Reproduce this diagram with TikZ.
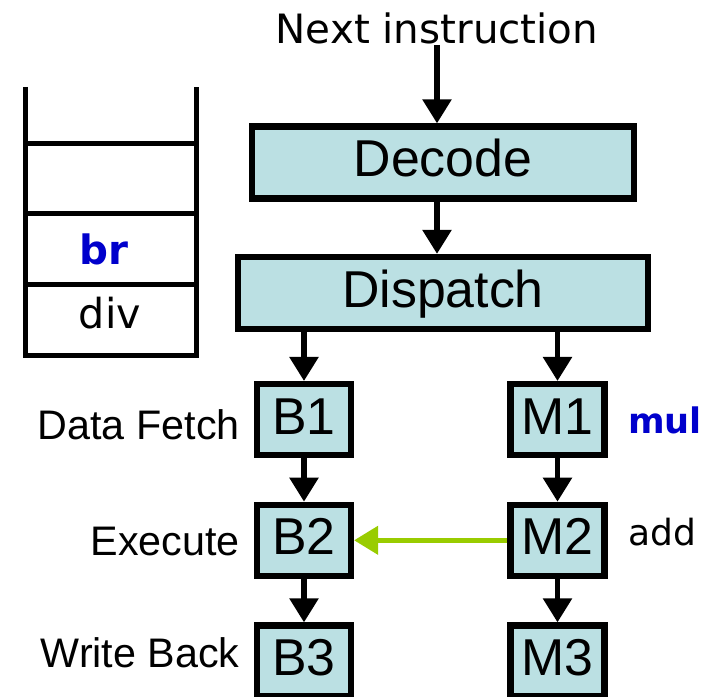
\documentclass[tikz,border=0pt]{standalone}
\usepackage{fontspec}
\setmainfont{Liberation Sans}
\newfontfamily\handfont{DejaVu Sans}
\usetikzlibrary{arrows.meta}

\definecolor{stagefill}{HTML}{BBE0E3}
\definecolor{fwdgreen}{HTML}{99CC00}
\definecolor{opblue}{HTML}{0000CC}

\begin{document}
\begin{tikzpicture}[%
        x = 0.02cm,
        y = -0.02cm,
        > = {Triangle[length = 0.48cm, width = 0.56cm]},
        stage/.style = {%
            draw = black,
            fill = stagefill,
            line width = 0.125cm,
            inner sep = 0pt,
            text height = 0.74cm,
            text depth = 0.16cm,
            font = \fontsize{29.5}{30}\selectfont
        },
        bigstage/.style = {%
            stage,
            minimum height = 1.44cm
        },
        unit/.style = {%
            stage,
            minimum width = 1.88cm,
            minimum height = 1.42cm
        },
        flow/.style = {%
            draw = black,
            line width = 0.11cm,
            ->
        },
        fwdarrow/.style = {%
            draw = fwdgreen,
            line width = 0.09cm,
            ->
        },
        stackline/.style = {%
            draw = black,
            line width = 0.1cm,
            line join = miter
        },
        phase/.style = {%
            inner sep = 0pt,
            anchor = base east,
            font = \fontsize{23.5}{24}\selectfont
        },
        hand/.style = {%
            inner sep = 0pt,
            anchor = base,
            font = \handfont\fontsize{23}{24}\selectfont
        }
    ]
        \useasboundingbox (0, 0) rectangle (706, 696);
        \clip (0, 0) rectangle (706, 696);

        \draw[stackline] (25, 87) to (25, 355) to (196, 355) to (196, 87);
        \foreach \y in {143, 213, 284}
            \draw[stackline] (25, \y) to (196, \y);
        \node at (104, 264) [hand, font = \handfont\bfseries\fontsize{23}{24}\selectfont, text = opblue] (br) {br};
        \node at (110, 328) [hand, font = \handfont\fontsize{23.5}{24}\selectfont] (div) {div};

        \node at (437, 44) [hand, anchor = base] (next) {Next instruction};
        \node at (443, 162.5) [bigstage, minimum width = 7.63cm] (decode) {Decode};
        \node at (443, 293) [bigstage, minimum width = 8.2cm] (dispatch) {Dispatch};

        \node at (304, 419.6) [unit] (b1) {B1};
        \node at (304, 540.3) [unit] (b2) {B2};
        \node at (304, 661) [unit] (b3) {B3};
        \node at (557.5, 419.6) [unit] (m1) {M1};
        \node at (557.5, 540.3) [unit] (m2) {M2};
        \node at (557.5, 661) [unit] (m3) {M3};

        \node at (240, 439) [phase] (fetch) {Data Fetch};
        \node at (240, 555) [phase] (exec) {Execute};
        \node at (240, 667) [phase] (wb) {Write Back};

        \node at (628, 433) [hand, anchor = base west, font = \handfont\bfseries\fontsize{20}{22}\selectfont, text = opblue] (mul) {mul};
        \node at (628, 545) [hand, anchor = base west, font = \handfont\fontsize{20.5}{22}\selectfont] (add) {add};

        \draw[flow] (next.south) to (next.south |- decode.north);
        \draw[flow] (next.south |- decode.south) to (next.south |- dispatch.north);
        \draw[flow] (b1.north |- dispatch.south) to (b1.north);
        \draw[flow] (m1.north |- dispatch.south) to (m1.north);
        \draw[flow] (b1) to (b2);
        \draw[flow] (b2) to (b3);
        \draw[flow] (m1) to (m2);
        \draw[flow] (m2) to (m3);
        \draw[fwdarrow] (m2) to (b2);
    \end{tikzpicture}
\end{document}
